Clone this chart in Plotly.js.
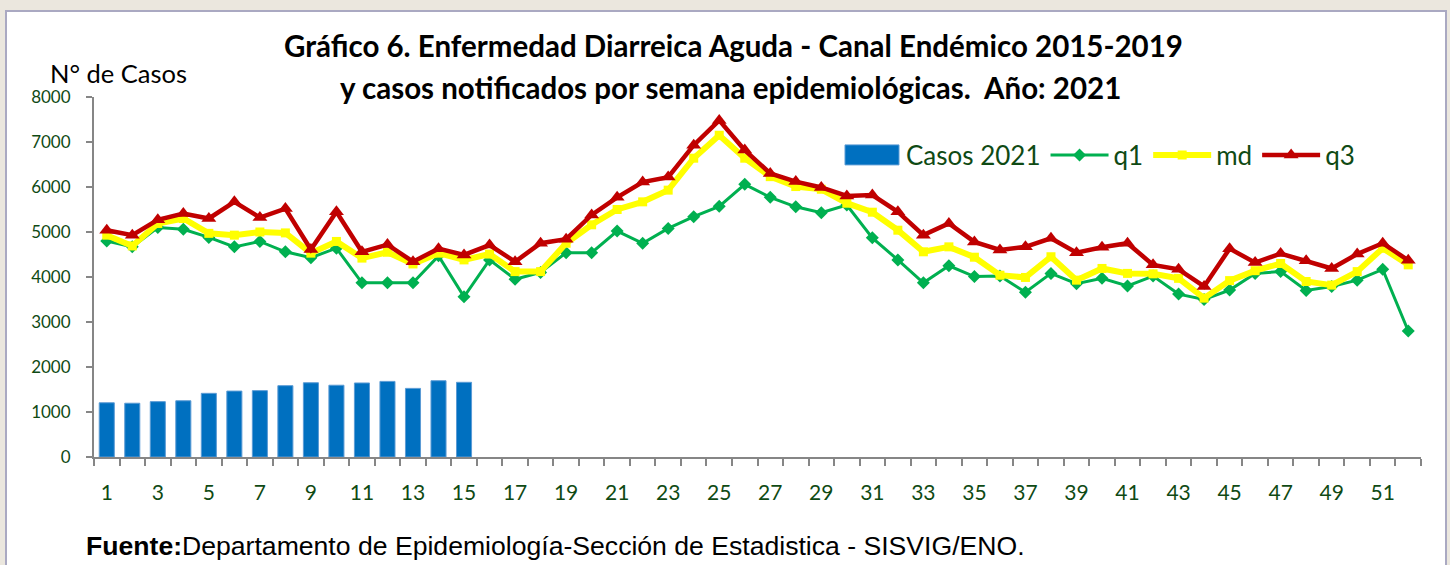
<!DOCTYPE html>
<html>
<head>
<meta charset="utf-8">
<script src="https://cdn.plot.ly/plotly-3.0.1.min.js"></script>
<style>
  html, body { margin:0; padding:0; background:#ebe7de; width:1450px; height:565px; overflow:hidden; }
  #panel { position:absolute; left:5px; top:10px; width:1438px; height:560px; background:#ffffff; border:2px solid #aaa9c2; }
  #chart { position:absolute; left:0; top:0; width:1450px; height:565px; }
</style>
</head>
<body>
<div id="panel"></div>
<div id="chart"></div>
<script>
// Semanas epidemiológicas
const weeks = [1,2,3,4,5,6,7,8,9,10,11,12,13,14,15,16,17,18,19,20,21,22,23,24,25,26,
               27,28,29,30,31,32,33,34,35,36,37,38,39,40,41,42,43,44,45,46,47,48,49,50,51,52];
// Casos 2021 (semanas 1-15)
const casosWeeks = [1,2,3,4,5,6,7,8,9,10,11,12,13,14,15];
const casos2021 = [1205,1195,1230,1250,1415,1465,1475,1585,1650,1595,1645,1680,1525,1695,1660];
// Canal endémico 2015-2019
const q1 = [4800,4670,5100,5060,4880,4670,4790,4560,4430,4640,3870,3870,3870,4470,3560,4380,
            3950,4100,4540,4540,5020,4750,5080,5340,5570,6060,5770,5560,5430,5600,4870,4380,
            3870,4250,4010,4020,3660,4080,3850,3970,3800,4020,3620,3500,3710,4080,4120,3700,
            3790,3930,4170,2800];
const md = [4930,4690,5190,5300,4970,4930,5000,4980,4530,4790,4420,4550,4290,4530,4380,4510,
            4120,4120,4750,5160,5500,5670,5930,6640,7150,6640,6230,6010,5950,5640,5440,5040,
            4560,4670,4440,4040,3990,4450,3930,4190,4080,4070,3970,3530,3920,4140,4300,3900,
            3820,4120,4640,4270];
const q3 = [5040,4930,5270,5410,5300,5670,5320,5520,4610,5450,4560,4720,4340,4630,4490,4710,
            4340,4750,4840,5380,5770,6110,6220,6930,7480,6820,6300,6120,5990,5800,5820,5450,
            4930,5190,4780,4600,4670,4860,4540,4660,4750,4270,4170,3790,4630,4320,4520,4360,
            4190,4510,4750,4370];

const FONT = 'Lato, "Open Sans", sans-serif';
const GREEN_TXT = '#0f4a14';
const AX = '#868686';

// plot area in window pixels
const L = 94, R = 1421, T = 97, B = 457;
const px = x => (x - L) / (R - L);
const py = y => (B - y) / (B - T);

const traces = [
  { type:'bar', name:'Casos 2021', x:casosWeeks, y:casos2021,
    marker:{ color:'#0070c0', line:{color:'#5b9bd5', width:1} }, hoverinfo:'x+y' },
  { type:'scatter', mode:'lines+markers', name:'q1', x:weeks, y:q1,
    line:{ color:'#00b050', width:3 }, marker:{ symbol:'diamond', size:10, color:'#00b050' } },
  { type:'scatter', mode:'lines+markers', name:'md', x:weeks, y:md,
    line:{ color:'#ffff00', width:6 }, marker:{ symbol:'square', size:9, color:'#ffff00' } },
  { type:'scatter', mode:'lines+markers', name:'q3', x:weeks, y:q3,
    line:{ color:'#c00000', width:4.5 }, marker:{ symbol:'triangle-up', size:13, color:'#c00000' } }
];

const layout = {
  width:1450, height:565,
  paper_bgcolor:'rgba(0,0,0,0)', plot_bgcolor:'rgba(0,0,0,0)',
  margin:{ l:L, r:1450-R, t:T, b:565-B, pad:0 },
  font:{ family:FONT, color:GREEN_TXT },
  bargap:0.41,
  showlegend:true,
  legend:{ orientation:'h', x:px(838), y:py(155), xanchor:'left', yanchor:'middle',
           font:{ family:FONT, size:26, color:GREEN_TXT }, bgcolor:'rgba(0,0,0,0)',
           itemwidth:58, traceorder:'normal' },
  xaxis:{
    range:[0.5, 52.5], tickmode:'linear', tick0:1, dtick:2, ticks:'', showgrid:false, zeroline:false,
    showline:true, linecolor:AX, linewidth:2,
    tickfont:{ family:FONT, size:21, color:GREEN_TXT }, ticklabelstandoff:16,
    minor:{ ticks:'outside', tick0:0.5, dtick:1, ticklen:7, tickwidth:2, tickcolor:AX, showgrid:false }
  },
  yaxis:{
    range:[0, 8000], tickmode:'linear', tick0:0, dtick:1000, ticks:'outside', ticklen:6, tickwidth:2, tickcolor:AX,
    showgrid:false, zeroline:false, showline:true, linecolor:AX, linewidth:2,
    tickfont:{ family:FONT, size:17, color:GREEN_TXT }, ticklabelstandoff:12
  },
  annotations:[
    { xref:'paper', yref:'paper', x:px(733), y:py(45), xanchor:'center', yanchor:'middle', showarrow:false,
      text:'<b>Gráfico 6. Enfermedad Diarreica Aguda - Canal Endémico 2015-2019</b>',
      font:{ family:FONT, size:29.5, color:'#000000' } },
    { xref:'paper', yref:'paper', x:px(730), y:py(87), xanchor:'center', yanchor:'middle', showarrow:false,
      text:'<b>y casos notificados por semana epidemiológicas.  Año: 2021</b>',
      font:{ family:FONT, size:29.5, color:'#000000' } },
    { xref:'paper', yref:'paper', x:px(118), y:py(73), xanchor:'center', yanchor:'middle', showarrow:false,
      text:'N° de Casos', font:{ family:FONT, size:25.5, color:'#000000' } },
    { xref:'paper', yref:'paper', x:px(84), y:py(546), xanchor:'left', yanchor:'middle', showarrow:false,
      text:'<b>Fuente:</b>Departamento de Epidemiología-Sección de Estadistica - SISVIG/ENO.',
      font:{ family:'"Liberation Sans", Arial, sans-serif', size:26.6, color:'#000000' } }
  ]
};

Plotly.newPlot('chart', traces, layout, { displayModeBar:false, staticPlot:true }).then(gd => {
  // widen the bar legend swatch to a rectangle like the original
  const items = gd.querySelectorAll('.legend .traces');
  if (items.length) {
    const p = items[0].querySelector('.legendpoints path');
    if (p) p.setAttribute('d', 'M-27,-10H27V10H-27Z');
  }
});
</script>
</body>
</html>
